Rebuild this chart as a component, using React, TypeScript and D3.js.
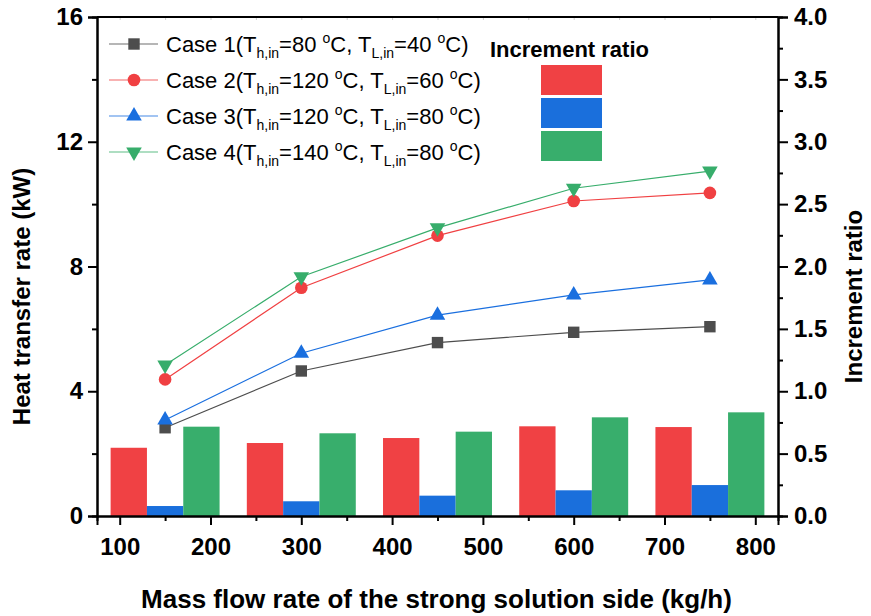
import { useEffect, useRef } from "react";
import * as d3 from "d3";

const WIDTH = 871;
const HEIGHT = 616;
const MARGIN = { top: 17, right: 93, bottom: 100, left: 97 };

// mass flow rate of the strong solution side (kg/h)
const flowRates = [150, 300, 450, 600, 750];

// heat transfer rate (kW)
const case1 = [2.83, 4.65, 5.56, 5.89, 6.07];
const case2 = [4.38, 7.32, 8.99, 10.1, 10.36];
const case3 = [3.08, 5.22, 6.44, 7.09, 7.57];
const case4 = [4.84, 7.67, 9.24, 10.51, 11.06];

// increment ratio (bars)
const ratioCase2 = [0.547, 0.585, 0.625, 0.719, 0.713];
const ratioCase3 = [0.08, 0.118, 0.163, 0.206, 0.248];
const ratioCase4 = [0.716, 0.663, 0.676, 0.791, 0.831];

const xTicks = [100, 200, 300, 400, 500, 600, 700, 800];
const leftTicks = [0, 4, 8, 12, 16];
const rightTicks = [0, 0.5, 1, 1.5, 2, 2.5, 3, 3.5, 4];

const legendLabels = [
  { name: "Case 1", th: "80", tl: "40" },
  { name: "Case 2", th: "120", tl: "60" },
  { name: "Case 3", th: "120", tl: "80" },
  { name: "Case 4", th: "140", tl: "80" },
];

const SERIES = [
  { values: case1, color: "#4d4d4d", symbol: "square" },
  { values: case2, color: "#f04042", symbol: "circle" },
  { values: case3, color: "#1a6fdf", symbol: "triangle" },
  { values: case4, color: "#37ad6b", symbol: "triangleDown" },
];

const BARS = [
  { values: ratioCase2, color: "#f04144", offset: -40 },
  { values: ratioCase3, color: "#1a6fdc", offset: 0 },
  { values: ratioCase4, color: "#38ae6c", offset: 40 },
];
const BAR_WIDTH = 40; // in kg/h units

const FONT = "Arial, 'Liberation Sans', sans-serif";

const markerPath = (kind: string) => {
  if (kind === "square") return d3.symbol(d3.symbolSquare, 130)()!;
  if (kind === "circle") return d3.symbol(d3.symbolCircle, 125)()!;
  return d3.symbol(d3.symbolTriangle, 105)()!;
};

const Marker = ({ kind, x, y, color }: { kind: string; x: number; y: number; color: string }) => (
  <path
    d={markerPath(kind)}
    transform={`translate(${x},${y})${kind === "triangleDown" ? " rotate(180)" : ""}`}
    fill={color}
  />
);

const App = () => {
  const axesRef = useRef<SVGGElement>(null);
  const boundsWidth = WIDTH - MARGIN.left - MARGIN.right;
  const boundsHeight = HEIGHT - MARGIN.top - MARGIN.bottom;

  const xScale = d3.scaleLinear().domain([75, 825]).range([0, boundsWidth]);
  const yScale = d3.scaleLinear().domain([0, 16]).range([boundsHeight, 0]);
  const yRight = d3.scaleLinear().domain([0, 4]).range([boundsHeight, 0]);

  useEffect(() => {
    const g = d3.select(axesRef.current);
    g.selectAll("*").remove();

    // faint top ticks
    g.append("g")
      .call(d3.axisTop(xScale).tickValues(d3.range(100, 801, 50)).tickSize(-3).tickFormat(() => ""))
      .call((s) => s.select(".domain").remove())
      .call((s) => s.selectAll("line").attr("stroke", "#cfcfcf"));
    g.append("line")
      .attr("x1", 0).attr("x2", boundsWidth).attr("y1", 0).attr("y2", 0)
      .attr("stroke", "#000").attr("stroke-width", 2);

    // bottom
    g.append("g")
      .attr("transform", `translate(0,${boundsHeight})`)
      .call(d3.axisBottom(xScale).tickValues(d3.range(150, 801, 100)).tickSize(5).tickFormat(() => ""));
    g.append("g")
      .attr("transform", `translate(0,${boundsHeight})`)
      .call(d3.axisBottom(xScale).tickValues(xTicks).tickSize(9).tickPadding(13));

    // left
    g.append("g")
      .call(d3.axisLeft(yScale).tickValues([2, 6, 10, 14]).tickSize(5).tickFormat(() => ""));
    g.append("g")
      .call(d3.axisLeft(yScale).tickValues(leftTicks).tickSize(9).tickPadding(5));

    // right
    g.append("g")
      .attr("transform", `translate(${boundsWidth},0)`)
      .call(d3.axisRight(yRight).tickValues(d3.range(0.25, 4, 0.5)).tickSize(5).tickFormat(() => ""));
    g.append("g")
      .attr("transform", `translate(${boundsWidth},0)`)
      .call(d3.axisRight(yRight).tickValues(rightTicks).tickSize(10).tickPadding(6).tickFormat(d3.format(".1f")));

    g.selectAll(".domain").attr("stroke", "#000").attr("stroke-width", 2);
    g.selectAll(".tick line").filter(function () {
      return d3.select(this).attr("stroke") !== "#cfcfcf";
    }).attr("stroke", "#000").attr("stroke-width", 2);
    g.selectAll(".tick text")
      .attr("font-family", FONT)
      .attr("font-weight", "bold")
      .attr("font-size", 24)
      .attr("fill", "#000");
  }, []);

  const lines = SERIES.map((s) =>
    d3
      .line<number>()
      .x((_, i) => xScale(flowRates[i]))
      .y((d) => yScale(d))(s.values)
  );

  return (
    <svg width={WIDTH} height={HEIGHT} style={{ position: "absolute", left: 0, top: 0, background: "#fff" }}>
      <g transform={`translate(${MARGIN.left},${MARGIN.top})`}>
        {BARS.map((b, bi) =>
          b.values.map((v, i) => (
            <rect
              key={`b${bi}-${i}`}
              x={xScale(flowRates[i] + b.offset - BAR_WIDTH / 2)}
              y={yRight(v)}
              width={xScale(BAR_WIDTH) - xScale(0)}
              height={yRight(0) - yRight(v)}
              fill={b.color}
            />
          ))
        )}
        {SERIES.map((s, si) => (
          <g key={`s${si}`}>
            <path d={lines[si]!} fill="none" stroke={s.color} strokeWidth={1.2} />
            {s.values.map((v, i) => (
              <Marker key={i} kind={s.symbol} x={xScale(flowRates[i])} y={yScale(v)} color={s.color} />
            ))}
          </g>
        ))}
        <g ref={axesRef} />
      </g>

      {/* series legend */}
      <g fontFamily={FONT} fontSize={22} fill="#000">
        {legendLabels.map((l, i) => {
          const cy = 44 + i * 36;
          const s = SERIES[i];
          return (
            <g key={l.name}>
              <line x1={109} x2={158} y1={cy} y2={cy} stroke={s.color} strokeWidth={1.2} opacity={0.8} />
              <Marker kind={s.symbol} x={134} y={cy} color={s.color} />
              <text x={166} y={cy + 8}>
                {l.name}(T
                <tspan fontSize={14} dy={6}>h,in</tspan>
                <tspan dy={-6}>={l.th} </tspan>
                <tspan fontSize={14} dy={-9}>o</tspan>
                <tspan dy={9}>C, T</tspan>
                <tspan fontSize={14} dy={6}>L,in</tspan>
                <tspan dy={-6}>={l.tl} </tspan>
                <tspan fontSize={14} dy={-9}>o</tspan>
                <tspan dy={9}>C)</tspan>
              </text>
            </g>
          );
        })}
      </g>

      {/* bar legend */}
      <text x={490} y={57} fontFamily={FONT} fontWeight="bold" fontSize={22}>
        Increment ratio
      </text>
      {BARS.map((b, i) => (
        <rect key={`lg${i}`} x={541} y={65 + i * 33} width={61} height={30} fill={b.color} />
      ))}

      {/* axis titles */}
      <text
        x={MARGIN.left + boundsWidth / 2 - 1}
        y={608}
        textAnchor="middle"
        fontFamily={FONT}
        fontWeight="bold"
        fontSize={26}
      >
        Mass flow rate of the strong solution side (kg/h)
      </text>
      <text
        transform={`translate(30,${MARGIN.top + boundsHeight / 2 + 30}) rotate(-90)`}
        textAnchor="middle"
        fontFamily={FONT}
        fontWeight="bold"
        fontSize={24}
      >
        Heat transfer rate (kW)
      </text>
      <text
        transform={`translate(862,${MARGIN.top + boundsHeight / 2 + 30}) rotate(-90)`}
        textAnchor="middle"
        fontFamily={FONT}
        fontWeight="bold"
        fontSize={24}
      >
        Increment ratio
      </text>
    </svg>
  );
};

export default App;
